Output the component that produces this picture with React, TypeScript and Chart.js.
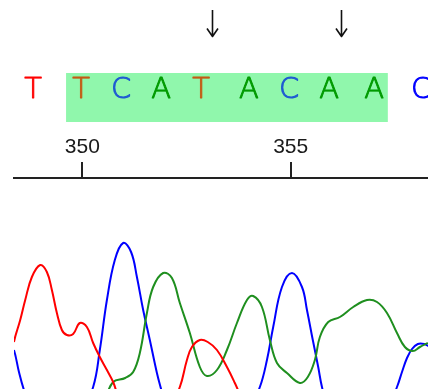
import React, { useEffect, useRef } from "react";
import { Chart, registerables } from "chart.js";

Chart.register(...registerables);

// Base calls shown above the trace and their positions (in base-number units)
const baseLetters = ["T", "T", "C", "A", "T", "A", "C", "A", "A", "C"];
const basePositions = [348.82, 349.97, 350.93, 351.89, 352.85, 354.0, 354.96, 355.92, 357.0, 358.13];
// Highlighted region (base units)
const highlightStart = 349.61;
const highlightEnd = 357.33;
// Arrow markers (base units)
const arrowPositions = [353.11, 356.21];
// Axis tick labels
const tickValues = [350, 355];

// Trace channels: x in base units, y in signal intensity
const redX = [348.03, 348.36, 348.51, 348.63, 348.79, 348.99, 349.15, 349.27, 349.39, 349.51, 349.63, 349.78, 349.94, 350.11, 350.26, 350.42, 350.59, 350.74, 350.9, 351.38, 351.98, 352.34, 352.51, 352.63, 352.82, 353.01, 353.23, 353.47, 353.66, 353.9, 354.38];
const redY = [245, 635, 745, 845, 960, 1020, 985, 895, 780, 695, 670, 675, 730, 710, 630, 560, 495, 435, 345, 195, 245, 410, 545, 610, 645, 635, 595, 510, 430, 320, 145];

const blueX = [348.03, 348.19, 348.36, 348.48, 348.6, 348.87, 349.46, 349.94, 350.26, 350.42, 350.59, 350.78, 350.98, 351.17, 351.31, 351.46, 351.62, 351.79, 351.89, 352.1, 353.06, 353.9, 354.26, 354.43, 354.58, 354.79, 355.03, 355.27, 355.39, 355.53, 355.66, 355.75, 355.94, 356.66, 357.26, 357.55, 357.67, 357.79, 357.91, 358.05, 358.2, 358.34];
const blueY = [755, 680, 595, 485, 395, 245, 145, 270, 410, 595, 845, 1045, 1130, 1085, 960, 795, 645, 480, 400, 245, 95, 245, 410, 545, 710, 910, 980, 910, 795, 645, 510, 410, 270, 145, 270, 410, 485, 555, 600, 625, 625, 610];

const greenX = [350.19, 350.54, 350.74, 351.03, 351.22, 351.38, 351.55, 351.7, 351.94, 352.15, 352.34, 352.58, 352.82, 352.99, 353.23, 353.47, 353.71, 353.95, 354.1, 354.31, 354.5, 354.67, 354.91, 355.22, 355.41, 355.58, 355.7, 355.9, 356.18, 356.5, 356.83, 357.07, 357.31, 357.55, 357.74, 357.93, 358.1, 358.29];
const greenY = [195, 345, 435, 455, 485, 580, 780, 910, 980, 955, 830, 680, 510, 465, 495, 595, 730, 845, 865, 810, 645, 530, 480, 430, 460, 545, 660, 735, 760, 810, 845, 835, 780, 680, 610, 590, 610, 630];

const toPoints = (xs: number[], ys: number[]) => xs.map((x, i) => ({ x, y: ys[i] }));

const letterColor = (letter: string, inBox: boolean) => {
  if (letter === "T") return inBox ? "#c45a14" : "#ff0000";
  if (letter === "C") return inBox ? "#1e5ad2" : "#0000ff";
  if (letter === "A") return inBox ? "#009a00" : "#00a000";
  return "#000";
};

const headerPlugin = {
  id: "header",
  beforeDraw(chart: any) {
    const { ctx } = chart;
    const xs = chart.scales.x;
    ctx.save();
    ctx.fillStyle = "#ffffff";
    ctx.fillRect(0, 0, chart.width, chart.height);
    const x0 = xs.getPixelForValue(highlightStart);
    const x1 = xs.getPixelForValue(highlightEnd);
    ctx.fillStyle = "#90f7ac";
    ctx.fillRect(x0, 73, x1 - x0, 49);
    ctx.restore();
  },
  afterDraw(chart: any) {
    const { ctx } = chart;
    const xs = chart.scales.x;
    ctx.save();
    ctx.textAlign = "center";
    ctx.textBaseline = "middle";
    ctx.font = "200 29px 'DejaVu Sans', sans-serif";
    ctx.lineWidth = 0.9;
    ctx.lineJoin = "round";
    baseLetters.forEach((l, i) => {
      const pos = basePositions[i];
      const inBox = pos > highlightStart && pos < highlightEnd;
      const c = letterColor(l, inBox);
      const x = xs.getPixelForValue(pos);
      ctx.fillStyle = c;
      ctx.strokeStyle = c;
      ctx.fillText(l, x, 90);
      ctx.strokeText(l, x, 90);
    });
    ctx.strokeStyle = "#111";
    ctx.lineWidth = 1.6;
    arrowPositions.forEach((p) => {
      const x = Math.round(xs.getPixelForValue(p)) + 0.5;
      ctx.beginPath();
      ctx.moveTo(x, 10);
      ctx.lineTo(x, 36);
      ctx.moveTo(x - 5.5, 28.5);
      ctx.lineTo(x, 36.5);
      ctx.lineTo(x + 5.5, 28.5);
      ctx.stroke();
    });
    ctx.restore();
  },
};

export default function App() {
  const ref = useRef<HTMLCanvasElement>(null);
  useEffect(() => {
    if (!ref.current) return;
    const chart = new Chart(ref.current, {
      type: "line",
      data: {
        datasets: [
          { data: toPoints(redX, redY), borderColor: "#ff0000" },
          { data: toPoints(greenX, greenY), borderColor: "#1f8f1f" },
          { data: toPoints(blueX, blueY), borderColor: "#0000ff" },
        ].map((d) => ({ ...d, borderWidth: 2, pointRadius: 0, tension: 0.4, fill: false, clip: 0 })),
      },
      options: {
        responsive: false,
        animation: false,
        layout: { padding: { left: 14, right: 0, top: 0, bottom: 0 } },
        plugins: { legend: { display: false }, tooltip: { enabled: false } },
        scales: {
          x: {
            type: "linear",
            position: "top",
            min: 348.361,
            max: 358.294,
            afterBuildTicks: (scale: any) => {
              scale.ticks = tickValues.map((v) => ({ value: v }));
            },
            afterFit: (scale: any) => {
              scale.height = 178;
            },
            grid: { drawOnChartArea: false, drawTicks: true, tickLength: 16, color: "#222", lineWidth: 2 },
            border: { display: true, color: "#222", width: 2 },
            ticks: {
              autoSkip: false,
              maxRotation: 0,
              padding: 2,
              color: "#1a1a1a",
              font: { size: 21, family: "'Liberation Sans', Arial, sans-serif" },
              callback: (v: any) => String(v),
            },
          },
          y: { display: false, min: 400, max: 1455 },
        },
      },
      plugins: [headerPlugin],
    });
    return () => chart.destroy();
  }, []);
  return (
    <div style={{ position: "fixed", left: 0, top: 0, width: 428, height: 389, background: "#fff" }}>
      <canvas ref={ref} width={428} height={389} />
    </div>
  );
}
